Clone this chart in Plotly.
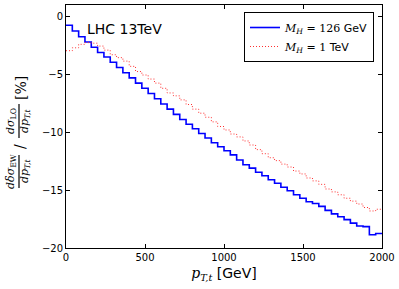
import plotly.graph_objects as go

bin_edges = list(range(0, 2001, 40))

ew_126gev = [-0.75, -1.25, -1.75, -2.2, -2.65, -3.1, -3.5, -3.95, -4.4, -4.85,
             -5.3, -5.75, -6.2, -6.65, -7.1, -7.55, -8.0, -8.45, -8.9, -9.3,
             -9.7, -10.1, -10.5, -10.9, -11.25, -11.6, -11.95, -12.4, -12.8, -13.1,
             -13.45, -13.75, -14.1, -14.4, -14.75, -15.05, -15.4, -15.7, -16.0, -16.15,
             -16.4, -16.75, -17.05, -17.3, -17.55, -17.85, -18.1, -18.15, -18.85, -18.75]

ew_1tev = [-2.95, -2.7, -2.4, -2.25, -2.3, -2.55, -2.9, -3.3, -3.55, -3.85,
           -4.3, -4.75, -5.05, -5.4, -5.75, -6.2, -6.6, -6.85, -7.2, -7.6,
           -8.0, -8.35, -8.7, -9.1, -9.5, -9.8, -10.15, -10.4, -10.75, -11.1,
           -11.5, -11.85, -12.2, -12.45, -12.75, -13.0, -13.35, -13.6, -13.95, -14.2,
           -14.5, -14.9, -15.15, -15.4, -15.7, -15.95, -16.2, -16.5, -16.8, -16.65]

x_ticks = [0, 500, 1000, 1500, 2000]
y_ticks = [0, -5, -10, -15, -20]

SERIF = "DejaVu Serif"
SANS = "DejaVu Sans"

def mh(num, unit):
    return (f'<span style="font-family:{SERIF}"><i>M</i><sub><i>H</i></sub> = {num}</span> {unit}')

fig = go.Figure()
fig.add_trace(go.Scatter(
    x=bin_edges, y=ew_126gev + [ew_126gev[-1]], mode="lines", line_shape="hv",
    line=dict(color="#0000ff", width=1.6), name=mh("126", "GeV")))
fig.add_trace(go.Scatter(
    x=bin_edges, y=ew_1tev + [ew_1tev[-1]], mode="lines", line_shape="hv",
    line=dict(color="#ff3030", width=1, dash="1px,2px"), name=mh("1", "TeV")))

W, H = 399, 289
L, R, T, B = 66, 17, 5, 41
pw, ph = W - L - R, H - T - B

def px(x):
    return (x - L) / pw

def py(y):
    return (H - B - y) / ph

axis_common = dict(showline=True, linecolor="black", linewidth=1, mirror="ticks",
                   ticks="inside", ticklen=4, tickwidth=1, tickcolor="black",
                   showgrid=False, zeroline=False,
                   tickfont=dict(family=SANS, size=10, color="black"))

fig.update_xaxes(range=[0, 2000], tickvals=x_ticks, ticktext=[str(v) for v in x_ticks],
                 title=dict(text=f'<span style="font-family:{SERIF}"><i>p</i><sub><i>T,t</i></sub></span> [GeV]',
                            font=dict(family=SANS, size=14, color="black"), standoff=6),
                 **axis_common)
fig.update_yaxes(range=[-20, 1], tickvals=y_ticks, **axis_common)

def label(text, x, y, size=11):
    fig.add_annotation(text=text, xref="paper", yref="paper", x=px(x), y=py(y),
                       textangle=-90, showarrow=False, xanchor="center", yanchor="middle",
                       font=dict(family=SERIF, size=size, color="black"))

label("<i>dδσ</i><sub>EW</sub>", 11, 171)
label("<i>dp</i><sub><i>T,t</i></sub>", 25, 171)
label("/", 20, 147, 14)
label("<i>dσ</i><sub>LO</sub>", 11, 121)
label("<i>dp</i><sub><i>T,t</i></sub>", 25, 121)
label("[%]", 21, 88, 14)
fig.add_shape(type="line", xref="paper", yref="paper", layer="above",
              x0=px(19), x1=px(19), y0=py(155), y1=py(188),
              line=dict(color="black", width=1.2))
fig.add_shape(type="line", xref="paper", yref="paper", layer="above",
              x0=px(19), x1=px(19), y0=py(104), y1=py(138),
              line=dict(color="black", width=1.2))

fig.add_annotation(text="LHC 13TeV", xref="paper", yref="paper", x=px(85), y=py(29),
                   xanchor="left", yanchor="middle", showarrow=False,
                   font=dict(family=SANS, size=14, color="black"))

fig.update_layout(
    width=W, height=H, margin=dict(l=L, r=R, t=T, b=B),
    paper_bgcolor="white", plot_bgcolor="white",
    legend=dict(x=px(374), y=py(12), xanchor="right", yanchor="top",
                bordercolor="black", borderwidth=1, bgcolor="white",
                font=dict(family=SANS, size=11, color="black"),
                itemwidth=30, tracegroupgap=0),
)

fig.write_html("out.html", config={"displayModeBar": False},
               post_script="document.body.style.margin='0';document.body.style.padding='0';")
